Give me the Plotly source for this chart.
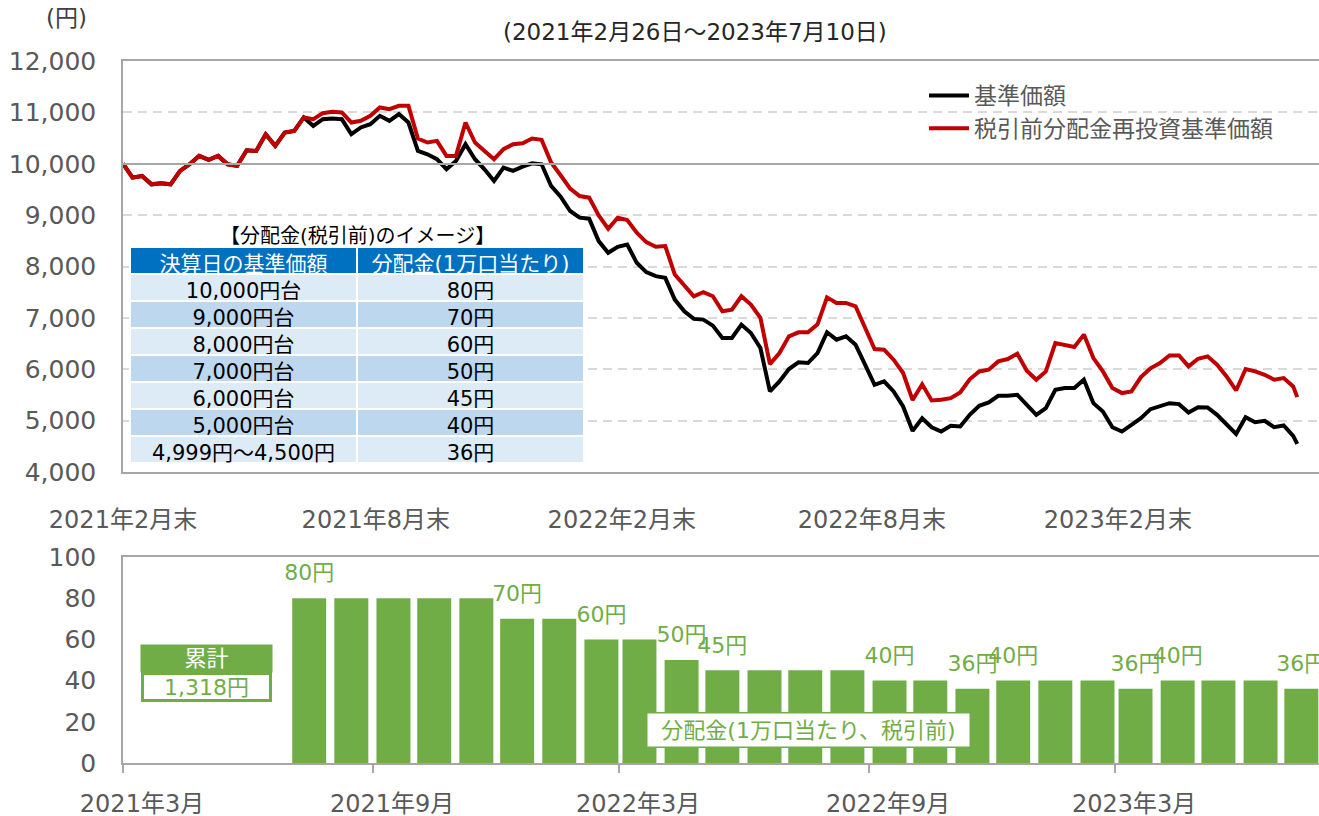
import pandas as pd
import plotly.graph_objects as go

# ---------------- data ----------------
# weekly sample dates (Fridays) + final date
price_dates = list(pd.date_range("2021-02-26", "2023-07-07", freq="7D").strftime("%Y-%m-%d")) + ["2023-07-10"]

# 税引前分配金再投資基準価額 (red)
reinvest_nav = [
    10000, 9730, 9763, 9600, 9620, 9600, 9860, 9990, 10153, 10075,
    10153, 9990, 9958, 10263, 10250, 10576, 10348, 10608, 10640, 10901,
    10868, 10985, 11011, 10998, 10803, 10836, 10933, 11096, 11063, 11128,
    11128, 10490, 10413, 10445, 10153, 10153, 10803, 10413, 10250, 10088,
    10283, 10380, 10400, 10491, 10465, 10023, 9776, 9516, 9372, 9340,
    8995, 8735, 8950, 8904, 8657, 8475, 8384, 8397, 7844, 7617,
    7420, 7499, 7421, 7129, 7161, 7421, 7259, 6999, 6100, 6316,
    6641, 6719, 6719, 6875, 7400, 7291, 7291, 7226, 6804, 6394,
    6381, 6186, 5926, 5400, 5707, 5392, 5405, 5438, 5548, 5805,
    5958, 5991, 6153, 6199, 6303, 5971, 5796, 5958, 6511, 6478,
    6433, 6674, 6218, 5958, 5633, 5536, 5568, 5848, 6017, 6121,
    6270, 6270, 6056, 6205, 6251, 6088, 5861, 5587, 6004, 5958,
    5893, 5796, 5828, 5666, 5457,
]

# 基準価額 (black)
nav = [
    10000, 9730, 9763, 9600, 9620, 9600, 9860, 9990, 10153, 10075,
    10153, 9990, 9958, 10263, 10250, 10576, 10348, 10608, 10640, 10901,
    10738, 10868, 10881, 10868, 10576, 10706, 10771, 10933, 10836, 10966,
    10803, 10250, 10185, 10088, 9893, 10055, 10380, 10088, 9893, 9665,
    9925, 9860, 9945, 10010, 9990, 9568, 9359, 9080, 8950, 8930,
    8494, 8267, 8384, 8429, 8072, 7890, 7812, 7779, 7356, 7129,
    6980, 6966, 6849, 6609, 6609, 6869, 6706, 6413, 5570, 5763,
    6004, 6134, 6121, 6316, 6720, 6576, 6641, 6478, 6088, 5698,
    5763, 5568, 5275, 4800, 5047, 4870, 4787, 4898, 4885, 5113,
    5288, 5353, 5483, 5483, 5503, 5308, 5113, 5243, 5600, 5633,
    5633, 5796, 5340, 5178, 4872, 4787, 4918, 5048, 5223, 5275,
    5340, 5321, 5158, 5262, 5256, 5113, 4937, 4742, 5067, 4970,
    4996, 4872, 4905, 4703, 4547,
]

top_tick_dates = ["2021-02-26", "2021-08-31", "2022-02-28", "2022-08-31", "2023-02-28"]
top_tick_text = ["2021年2月末", "2021年8月末", "2022年2月末", "2022年8月末", "2023年2月末"]

# monthly distributions (July 2021 - July 2023), bars centred mid-month
dist_months = list(pd.date_range("2021-07-01", periods=25, freq="MS"))
dist_dates = [(d + pd.Timedelta(days=15)).strftime("%Y-%m-%d") for d in dist_months]
dist_values = [80, 80, 80, 80, 80, 70, 70, 60, 60, 50, 45, 45, 45, 45, 40, 40, 36,
               40, 40, 40, 36, 40, 40, 40, 36]
dist_labels = ["80円", "", "", "", "", "70円", "", "60円", "", "50円", "45円", "", "", "",
               "40円", "", "36円", "40円", "", "", "36円", "40円", "", "", "36円"]

bottom_tick_dates = ["2021-03-01", "2021-09-01", "2022-03-01", "2022-09-01", "2023-03-01"]
bottom_tick_text = ["2021年3月", "2021年9月", "2022年3月", "2022年9月", "2023年3月"]

table_col1 = ["10,000円台", "9,000円台", "8,000円台", "7,000円台", "6,000円台",
              "5,000円台", "4,999円～4,500円"]
table_col2 = ["80円", "70円", "60円", "50円", "45円", "40円", "36円"]
table_header = ["決算日の基準価額", "分配金(1万口当たり)"]
total_dist = "1,318円"

# ---------------- styling ----------------
FONT = "DejaVu Sans, Noto Sans CJK JP, sans-serif"
GRAY = "#595959"
AXIS = "#A6A6A6"
GREEN = "#70AD47"
W, H = 1319, 816

def px_x(p):
    return p / W

def px_y(p):
    return 1 - p / H

top_dom = [px_y(472), px_y(61)]
bot_dom = [px_y(763), px_y(557)]
x_dom = [px_x(123), 1.0]

fig = go.Figure()

fig.add_trace(go.Scatter(x=price_dates, y=nav, mode="lines", name="基準価額",
                         line=dict(color="#000000", width=4), xaxis="x", yaxis="y"))
fig.add_trace(go.Scatter(x=price_dates, y=reinvest_nav, mode="lines", name="税引前分配金再投資基準価額",
                         line=dict(color="#C00000", width=4), xaxis="x", yaxis="y"))
# helper (empty) trace for the 10,000 crossing axis
fig.add_trace(go.Scatter(x=[], y=[], xaxis="x4", yaxis="y", showlegend=False, hoverinfo="skip"))

fig.add_trace(go.Bar(x=dist_dates, y=dist_values, marker=dict(color=GREEN, line=dict(width=0)),
                     width=25 * 86400000, xaxis="x2", yaxis="y2", showlegend=False))
fig.add_trace(go.Scatter(x=dist_dates, y=dist_values, mode="markers+text", text=dist_labels,
                         marker=dict(size=18, opacity=0),
                         textposition="top center", textfont=dict(size=22, color=GREEN, family=FONT),
                         xaxis="x2", yaxis="y2", showlegend=False, cliponaxis=False,
                         hoverinfo="skip"))

# table
fills_col = ["#DDEBF7" if i % 2 == 0 else "#BDD7EE" for i in range(len(table_col1))]
fig.add_trace(go.Table(
    domain=dict(x=[px_x(130), px_x(584)], y=[px_y(468), px_y(247)]),
    columnwidth=[1, 1],
    header=dict(values=table_header, fill_color="#0070C0", align="center", height=27,
                font=dict(color="white", size=21, family=FONT), line=dict(color="white", width=2)),
    cells=dict(values=[table_col1, table_col2], fill_color=[fills_col, fills_col], align="center",
               height=27, font=dict(color="#000000", size=21, family=FONT),
               line=dict(color="white", width=2)),
))

fig.update_layout(
    width=W, height=H,
    margin=dict(l=0, r=0, t=0, b=0, autoexpand=False),
    paper_bgcolor="white", plot_bgcolor="white",
    font=dict(family=FONT, color=GRAY, size=22),
    showlegend=True,
    legend=dict(x=px_x(924), y=px_y(74), xanchor="left", yanchor="top",
                font=dict(size=23, color=GRAY, family=FONT), bgcolor="rgba(0,0,0,0)",
                tracegroupgap=0, itemwidth=40),
    xaxis=dict(domain=x_dom, anchor="y", range=["2021-02-26", "2023-07-26"],
               tickvals=top_tick_dates, ticktext=top_tick_text, ticks="",
               tickfont=dict(size=24, color=GRAY), ticklabelstandoff=25, automargin=False,
               showline=True, mirror=True, linecolor=AXIS, linewidth=1.5, showgrid=False,
               zeroline=False),
    xaxis4=dict(overlaying="x", anchor="free", side="bottom",
                position=top_dom[0] + 0.75 * (top_dom[1] - top_dom[0]),
                range=["2021-02-26", "2023-07-26"], tickvals=top_tick_dates,
                ticks="outside", ticklen=8, tickwidth=1.5, tickcolor=AXIS, automargin=False,
                showticklabels=False, showline=True, linecolor=AXIS, linewidth=1.5,
                showgrid=False, zeroline=False),
    yaxis=dict(domain=top_dom, anchor="x", range=[4000, 12000], dtick=1000, tickformat=",",
               tickfont=dict(size=25, color=GRAY), ticks="", ticklabelstandoff=20, automargin=False,
               showgrid=True, gridcolor="#D9D9D9", gridwidth=1.5, griddash="9px,6px",
               showline=True, mirror=True, linecolor=AXIS, linewidth=1.5, zeroline=False),
    xaxis2=dict(domain=x_dom, anchor="y2", range=["2021-03-01", "2023-07-29"],
                tickvals=bottom_tick_dates, ticktext=bottom_tick_text,
                ticks="outside", ticklen=8, tickwidth=1.5, tickcolor=AXIS,
                ticklabelshift=19, ticklabelstandoff=10, automargin=False,
                tickfont=dict(size=24, color=GRAY),
                showline=True, mirror=True, linecolor=AXIS, linewidth=1.5, showgrid=False,
                zeroline=False),
    yaxis2=dict(domain=bot_dom, anchor="x2", range=[0, 100], dtick=20, automargin=False,
                tickfont=dict(size=25, color=GRAY), ticks="", ticklabelstandoff=20,
                showgrid=False, showline=True, mirror=True, linecolor=AXIS, linewidth=1.5,
                zeroline=False),
    bargap=0.2,
)

annotations = [
    dict(text="(円)", x=px_x(66), y=px_y(18), xref="paper", yref="paper", showarrow=False,
         font=dict(size=23, color="#404040")),
    dict(text="(2021年2月26日～2023年7月10日)", x=px_x(695), y=px_y(32), xref="paper", yref="paper",
         showarrow=False, font=dict(size=23, color="#262626")),
    dict(text="【分配金(税引前)のイメージ】", x=px_x(357), y=px_y(236), xref="paper", yref="paper",
         showarrow=False, font=dict(size=20, color="#000000")),
    dict(text="累計", x=px_x(206), y=px_y(658), xref="paper", yref="paper", showarrow=False,
         width=131, height=27, bgcolor=GREEN, borderpad=0, font=dict(size=22, color="white")),
    dict(text=total_dist, x=px_x(206), y=px_y(687), xref="paper", yref="paper", showarrow=False,
         width=125, height=24, bgcolor="white", bordercolor=GREEN, borderwidth=3, borderpad=0,
         font=dict(size=22, color=GREEN)),
    dict(text="分配金(1万口当たり、税引前)", x=px_x(808), y=px_y(730), xref="paper", yref="paper",
         showarrow=False, width=322, height=33, bgcolor="white", bordercolor=GREEN, borderwidth=1.5,
         borderpad=0, font=dict(size=22, color=GREEN)),
]
for a in annotations:
    a["xanchor"] = "center"
    a["yanchor"] = "middle"
fig.update_layout(annotations=annotations)

fig.write_html("out.html", config={"displayModeBar": False},
               post_script="document.body.style.margin='0px';")
